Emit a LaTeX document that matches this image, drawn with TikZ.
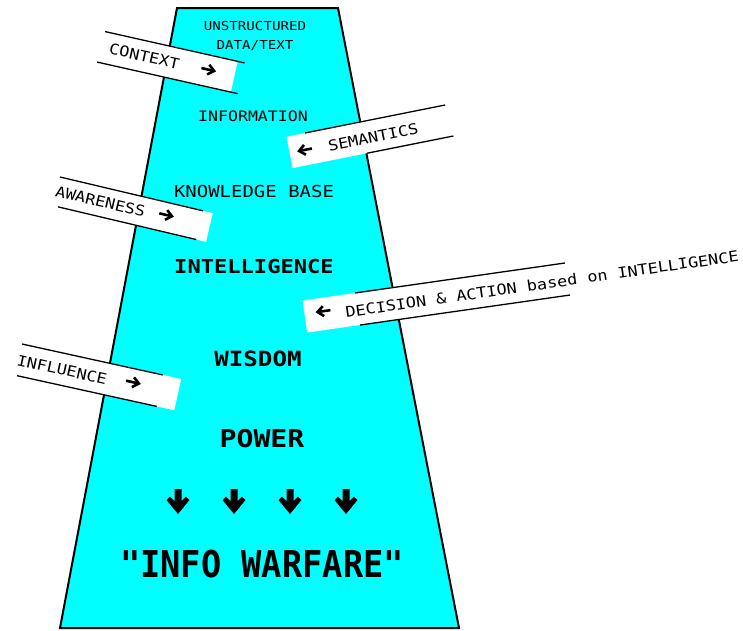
\documentclass[tikz,border=0pt]{standalone}
\usepackage{fontspec}
\newfontfamily\mono[FakeStretch=1.15]{DejaVu Sans Mono}
\newfontfamily\monoN[FakeStretch=0.91]{DejaVu Sans Mono}
\definecolor{aqua}{RGB}{0,255,255}
\tikzset{
  funnel/.style={fill=aqua, draw=black, line width=2, line join=miter},
  lbl/.style={font=\mono\fontsize{#1}{#1}\selectfont, inner sep=0, anchor=base},
  blbl/.style={font=\mono\bfseries\fontsize{#1}{#1}\selectfont, inner sep=0, anchor=base},
  stripfill/.style={fill=white},
  stripline/.style={draw=black, line width=1.3},
  striptext/.style={font=\mono\fontsize{14.7}{15}\selectfont, inner sep=0, anchor=west},
  arr/.style={line width=2.6, line cap=butt, line join=miter},
  rarrow/.pic={\draw[arr] (-7,0) -- (5,0); \draw[arr] (0,-5) -- (6,0) -- (0,5);},
  larrow/.pic={\draw[arr] (7,0) -- (-5,0); \draw[arr] (0,-5) -- (-6,0) -- (0,5);},
  downarrow/.pic={\fill (-3.5,0) -- (3.5,0) -- (3.5,12) -- (8,7.5) -- (11.5,11) -- (0,25)
     -- (-11.5,11) -- (-8,7.5) -- (-3.5,12) -- cycle;}
}
\begin{document}
\begin{tikzpicture}[x=1pt,y=-1pt]
\useasboundingbox (0,0) rectangle (743,630);
% funnel
\draw[funnel] (177,8) -- (338,8) -- (459,628) -- (60,628) -- cycle;
% level labels
\node[lbl=12.3] (unstructured) at (255,30) {UNSTRUCTURED};
\node[lbl=12.3] (datatext) at (255,49) {DATA/TEXT};
\node[lbl=14.4] (information) at (253,121.5) {INFORMATION};
\node[lbl=16.5] (knowledge) at (254,197) {KNOWLEDGE BASE};
\node[blbl=19.2] (intelligence) at (254,273) {INTELLIGENCE};
\node[blbl=21] (wisdom) at (258,366) {WISDOM};
\node[blbl=24.5] (power) at (262,447) {POWER};
\node[font=\monoN\bfseries\fontsize{37}{37}\selectfont, inner sep=0, anchor=base] (warfare) at (262,577) {"INFO WARFARE"};
% down arrows
\foreach \x in {178,234,290,346} \pic at (\x,489) {downarrow};
% CONTEXT strip
\begin{scope}[shift={(107,32)}, rotate=-12.66, transform shape]
  \fill[stripfill] (-20,0) rectangle (134,31.5);
  \draw[stripline] (-2,0) -- (141,0);
  \draw[stripline] (-3,31.5) -- (141,31.5);
  \node[striptext] (context) at (6,15.5) {CONTEXT};
  \pic at (107,14.5) {rarrow};
\end{scope}
% SEMANTICS strip
\begin{scope}[shift={(305,133)}, rotate=11.3, transform shape]
  \fill[stripfill] (-19,0) rectangle (150,32);
  \draw[stripline] (0,0) -- (143,0);
  \draw[stripline] (57,32) -- (145,32);
  \node[striptext] (semantics) at (20,17.5) {SEMANTICS};
  \pic at (-3.3,16.5) {larrow};
\end{scope}
% AWARENESS strip
\begin{scope}[shift={(60,177)}, rotate=-13.3, transform shape]
  \fill[stripfill] (-20,0) rectangle (157,29.5);
  \draw[stripline] (0,0) -- (147,0);
  \draw[stripline] (5,29.5) -- (147,29.5);
  \node[striptext] (awareness) at (-1,14.5) {AWARENESS};
  \pic at (112,12.5) {rarrow};
\end{scope}
% DECISION strip
\begin{scope}[shift={(355,293)}, rotate=8.13, transform shape]
  \fill[stripfill] (-53,0) rectangle (213,32.4);
  \draw[stripline] (0,0) -- (212,0);
  \draw[stripline] (0.4,32.4) -- (212.5,32.4);
  \node[striptext] (decision) at (-12.3,17.5) {DECISION \& ACTION based on INTELLIGENCE};
  \pic at (-33.8,13.5) {larrow};
\end{scope}
% INFLUENCE strip
\begin{scope}[shift={(22,344)}, rotate=-12.4, transform shape]
  \fill[stripfill] (-22,0) rectangle (163,32);
  \draw[stripline] (0,0) -- (144,0);
  \draw[stripline] (2,32) -- (145,32);
  \node[striptext] (influence) at (-1.5,16.5) {INFLUENCE};
  \pic at (116.6,13.5) {rarrow};
\end{scope}
\end{tikzpicture}
\end{document}
